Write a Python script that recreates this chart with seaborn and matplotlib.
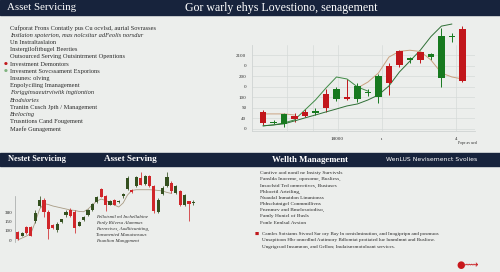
import numpy as np
import pandas as pd
import matplotlib
matplotlib.use('Agg')
import matplotlib.pyplot as plt
import seaborn as sns

# ---- top chart: candles (one per session) ----
top_open = [16, 6, 5, 12, 16, 15, 33, 28.5, 30.5, 28.5, 34, 30, 60, 74, 65.5, 73, 68.5, 48.5, 87.5, 95]
top_close = [6, 7, 14, 9.5, 12.5, 17, 20, 38, 28.5, 41, 35.5, 50, 44, 61, 67.5, 65.5, 71, 89, 89, 45.5]
top_high = [18, 8.5, 15, 15, 19, 20, 38, 40, 47.5, 44, 38, 52, 63, 75, 69, 73.5, 72, 96, 91, 98]
top_low = [4, 5, 2, 7, 11, 13, 16, 26.5, 28, 25.5, 31, 25, 32, 59, 63, 63, 65.5, 40, 83, 45]

# top chart trend lines
green_a = [2.9, 3.8, 5.7, 8.6, 18.1, 27.6, 39, 49.5, 47.6, 40, 36]
green_b = [2.9, 3.8, 4.8, 7.6, 10.5, 13.3, 16.2, 19, 21.9, 23.8, 27.6, 32.4, 41, 54.3, 64.7, 75.2, 88, 98, 100]
tan_early = [14.3, 14.3, 14.3, 13.3]
tan_late = [39, 44.7, 53.3, 68.5, 74, 75, 73.8, 65.7, 53.3, 49.5, 47.6]
tan_late_start = 9

top_yticks = [0, 10, 20, 30, 40, 50, 60, 70]
top_ylabels = ['0', '40', '50', '100', '0', '200', '0', '2100']
top_xticks = [7.1, 11.3, 18.4]
top_xlabels = ['18000', 'ı', '4']

# ---- bottom chart: candles ----
bot_open = [9.1, 4.7, 14.3, 14.3, 21.2, 37.7, 44, 31.1, 16.5, 11, 19.5, 27.5, 33, 31.1, 15.7,
            22, 27.5, 33, 41.5, 55.8, 48, 38.8, 44.3, 41.5, 48, 56.4, 55.3, 59, 68.2, 61.6,
            70, 59, 30.8, 50.6, 59, 62.7, 51.7, 54.2, 38.2, 42.6, 40.7]
bot_close = [1.1, 8, 7.7, 4.7, 30, 44, 31.1, 11.8, 12.9, 17.6, 22.8, 31.1, 26.7, 12.9, 20.1,
             25.6, 33, 39.6, 47, 47.6, 38.8, 42.6, 38.8, 43.2, 50.6, 68.2, 52.8, 69, 60.8, 70,
             59, 31.6, 44.3, 57.2, 69, 53.6, 59, 38.2, 49.8, 39.9, 41.8]
bot_high = [9.9, 8.5, 15, 15, 33, 48.4, 46.2, 33, 17.5, 20, 23.5, 33, 34.9, 33, 21,
            26.5, 34, 40.5, 48, 56.9, 49.8, 43.5, 45, 44, 51.7, 70, 56, 70, 74.8, 71.8,
            71.2, 60.2, 46.2, 59, 74.8, 64.6, 60.8, 55.3, 50.6, 42.9, 44]
bot_low = [0, 4, 7, 4, 18.4, 36.6, 25.6, 1.1, 12, 9, 19, 25.6, 25.6, 7.4, 15,
           21, 26.5, 32, 40.5, 47, 31.6, 38, 38, 40.8, 46.2, 55.3, 52, 58.3, 60.2, 60.8,
           58, 29.7, 29.7, 49.8, 58, 51.7, 50.6, 37, 37, 21.2, 38.5]
bot_line = [0, 2.2, 4.4, 7.2, 19.8, 34, 40, 39, 37.4, 36.3, 35.2, 34.1, 33, 32.5, 31.4,
            31.1, 34, 38.5, 42.9, 45, 43.5, 41.3, 38.5, 36.3, 40.7, 49.5, 54.5, 55.3, 55.3,
            55.3, 55.3, 55, 54.5, 53.9, 52.3, 51.2]

bot_yticks = [0, 10, 20, 30]
bot_ylabels = ["0'", '100', '150', '380']

# ---- slide text ----
header_left = 'Asset Servicing'
header_mid = 'Gor warly ehys Lovestiono, senagement'
service_list = [
    'Cufporat Frons Contatly pus Cu ocvlsd, aurial Sovrasses',
    'Instlaion spoterion, mas nolcsitur adFeolis norsdur',
    'Un Instraltaslaion',
    'Instergilofitbugel Beerties',
    'Outsourced Serving Outsintrment Opentions',
    'Investment Demontors',
    'Invesment Sovcssament Exporions',
    'Insunes: olving',
    'Enpolyciling Imanagement',
    'Forigginsaeutrviwitk ingtiontion',
    'Brodsiories',
    'Traniin Cusch Jpth / Management',
    'Brelocing',
    'Trusntions Cand Fougement',
    'Maefe Gunagement',
]
service_italic = [False, True, False, False, False, False, False, False, False, True, True, False, True, False, False]
bar2_labels = ['Nestet Servicing', 'Asset Serving', 'Wellth Management', 'WenLUS Nevisemenct Svolies']
chart_notes = ['Fellotsmil ml Inchellabine', 'Fnnly Rilvesa Alammas', 'Farnrcives, Audlitcuniting,',
               'Tonsmenied Manutsnsaus', 'Fnunlion Mangpment']
wealth_list = [
    'Cunfive aod nonil ne Insisty Survivsls',
    'Fanslda Inoeeme, oposome, Busliess,',
    'Insoclstd Ted onmvetives, Busiuses',
    'Phlocrtil Arteiling,',
    'Nuaulal Inmatdon Linunionss',
    'Phhsclutnigel Conmmillivns',
    'Fnenmev and Bmelosotodiso,',
    'Famly Hunicl of Busls',
    'Fonle Ennlsal Avsion',
]
wealth_para = [
    'Camles Sotsiams Stvosd Sar ory Bay ln oenislminution, and Inogipripn and posmuos',
    'Unsapitoon Hhr onnedlnd Autimory Bdlomtat protiated lue lunmlmnt and Busliow.',
    'Ungrigrsod Insumnon, and Gellon; Inulaisnsmotoloant services.',
]

BG = '#eceeec'
NAVY = '#17233c'
INK = '#2a2a2a'

sns.set_style('white')
plt.rcParams['font.family'] = ['Liberation Serif', 'DejaVu Serif', 'DejaVu Sans']


def fx(x):
    return x / 500


def fy(y):
    return 1 - y / 272


def draw_candles(ax, df, up, down, width, lw):
    col = np.where(df['close'] >= df['open'], up, down)
    wicks = ax.vlines(df['idx'], df['low'], df['high'], colors=col, linewidth=lw, zorder=2)
    wicks.set_clip_on(False)
    body = (df['close'] - df['open']).abs().clip(lower=0.9)
    bars = ax.bar(df['idx'], body, bottom=df[['open', 'close']].min(axis=1),
                  width=width, color=col, linewidth=0, zorder=3)
    for b in bars:
        b.set_clip_on(False)


fig = plt.figure(figsize=(5, 2.72), dpi=100, facecolor=BG)

# navy header bars
fig.add_artist(plt.Rectangle((0, fy(15)), 1, 15 / 272, transform=fig.transFigure,
                             color=NAVY, zorder=0))
fig.add_artist(plt.Rectangle((0, fy(166)), 1, 13 / 272, transform=fig.transFigure,
                             color=NAVY, zorder=0))

fig.text(fx(7), fy(8), header_left, color='white', fontsize=7.8, va='center')
fig.text(fx(281), fy(8), header_mid, color='white', fontsize=8.6, va='center', ha='center')

# left list of services
for i, (txt, it) in enumerate(zip(service_list, service_italic)):
    y = 28 + i * 7.2
    fig.text(fx(10), fy(y), txt, color=INK, fontsize=4.6, va='center',
             style='italic' if it else 'normal')
fig.text(fx(6), fy(28 + 5 * 7.2), '●', color='#c0181c', fontsize=3.2, va='center', ha='center',
         family='DejaVu Sans')
fig.text(fx(6), fy(28 + 6 * 7.2), '●', color='#7fb37f', fontsize=3.2, va='center', ha='center',
         family='DejaVu Sans')

# ---- top candle chart ----
top = pd.DataFrame({'idx': range(len(top_open)), 'open': top_open, 'close': top_close,
                    'high': top_high, 'low': top_low})
ax1 = fig.add_axes([fx(252), fy(131), 223 / 500, 86 / 272])
ax1.set_facecolor('none')
draw_candles(ax1, top, '#17791f', '#c2161b', 0.6, 0.7)
sns.lineplot(x=list(range(len(green_a))), y=green_a, ax=ax1, color='#3f8a45', linewidth=0.7, clip_on=False)
sns.lineplot(x=list(range(len(green_b))), y=green_b, ax=ax1, color='#2f6f36', linewidth=0.7, clip_on=False)
sns.lineplot(x=list(range(len(tan_early))), y=tan_early, ax=ax1, color='#caa382', linewidth=0.7, clip_on=False)
sns.lineplot(x=list(range(tan_late_start, tan_late_start + len(tan_late))), y=tan_late, ax=ax1,
             color='#c9a07e', linewidth=0.7, clip_on=False)
ax1.set_xlim(-1.05, 20.2)
ax1.set_ylim(-2, 80)
ax1.set_yticks(top_yticks)
ax1.set_yticklabels(top_ylabels)
ax1.set_xticks(top_xticks)
ax1.set_xticklabels(top_xlabels)
ax1.set_xticks([2.3, 4.8], minor=True)
ax1.grid(True, which='both', color='#d6dad9', linewidth=0.5)
ax1.set_axisbelow(True)
ax1.tick_params(which='both', length=0, labelsize=3.6, colors=INK, pad=4)
for s in ['top', 'right']:
    ax1.spines[s].set_visible(False)
for s in ['left', 'bottom']:
    ax1.spines[s].set_color('#cfd3d2')
    ax1.spines[s].set_linewidth(0.6)

# second header bar
fig.text(fx(8), fy(159), bar2_labels[0], color='white', fontsize=6.0, weight='bold', va='center')
fig.text(fx(104), fy(159), bar2_labels[1], color='white', fontsize=6.6, weight='bold', va='center')
fig.text(fx(272), fy(159.5), bar2_labels[2], color='white', fontsize=6.3, weight='bold', va='center')
fig.text(fx(386), fy(159.5), bar2_labels[3], color='white', fontsize=4.4, va='center',
         family='DejaVu Sans')
fig.text(fx(467), fy(143), 'Pope av ued', color=INK, fontsize=2.8, va='center', ha='center')

# ---- bottom candle chart ----
bot = pd.DataFrame({'idx': range(len(bot_open)), 'open': bot_open, 'close': bot_close,
                    'high': bot_high, 'low': bot_low})
ax2 = fig.add_axes([fx(15), fy(243), 185 / 500, 73 / 272])
ax2.set_facecolor('none')
sns.lineplot(x=list(range(len(bot_line))), y=bot_line, ax=ax2, color='#a89b84', linewidth=0.6)
draw_candles(ax2, bot, '#34501f', '#d0262a', 0.72, 0.55)
ax2.set_xlim(-0.615, 41.5)
ax2.set_ylim(-3.3, 77)
ax2.set_yticks(bot_yticks)
ax2.set_yticklabels(bot_ylabels)
ax2.set_xticks([])
ax2.tick_params(length=0, labelsize=3.6, colors=INK, pad=2)
for s in ['top', 'right', 'bottom']:
    ax2.spines[s].set_visible(False)
ax2.spines['left'].set_color('#a0a4a3')
ax2.spines['left'].set_linewidth(0.5)
ax2.spines['left'].set_bounds(-2, 48)

for i, txt in enumerate(chart_notes):
    fig.text(fx(96), fy(217 + i * 6), txt, color=INK, fontsize=3.5, style='italic', va='center')

# wealth management text
for i, txt in enumerate(wealth_list):
    fig.text(fx(260), fy(173.3 + i * 6.15), txt, color=INK, fontsize=3.9, va='center')
fig.text(fx(257), fy(234), '■', color='#c0181c', fontsize=3.2, va='center', ha='center',
         family='DejaVu Sans')
for i, txt in enumerate(wealth_para):
    fig.text(fx(262), fy(234 + i * 6.3), txt, color=INK, fontsize=3.7, va='center')

fig.text(fx(468), fy(265), '●⟿', color='#c8181c', fontsize=7, va='center', ha='center',
         family='DejaVu Sans')

fig.savefig('out.png', dpi=100, facecolor=BG)
